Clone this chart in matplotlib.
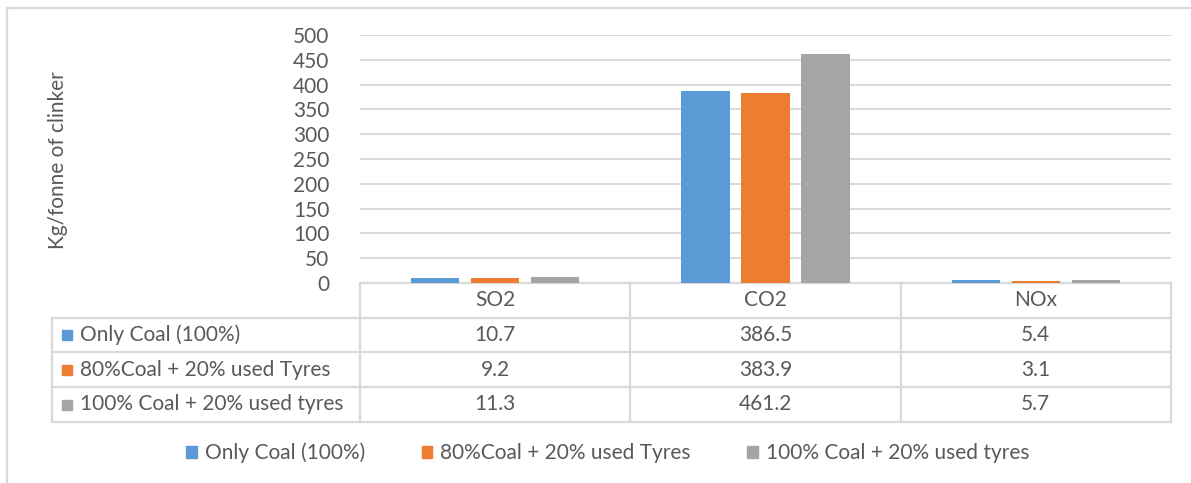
import numpy as np
import matplotlib.pyplot as plt
from matplotlib.patches import Patch, Rectangle

# emissions per tonne of clinker
pollutants = ['SO2', 'CO2', 'NOx']
fuel_mixes = ['Only Coal (100%)', '80%Coal + 20% used Tyres', '100% Coal + 20% used tyres']
only_coal = [10.7, 386.5, 5.4]
coal_80_tyres_20 = [9.2, 383.9, 3.1]
coal_100_tyres_20 = [11.3, 461.2, 5.7]
series = [only_coal, coal_80_tyres_20, coal_100_tyres_20]
colors = ['#5B9BD5', '#ED7D31', '#A5A5A5']
yticks = [0, 50, 100, 150, 200, 250, 300, 350, 400, 450, 500]

TEXT = '#595959'
LINE = '#D9D9D9'
FONT = 'Lato'
FS = 15

W, H = 1191, 483
plt.rcParams['font.family'] = FONT

fig = plt.figure(figsize=(W / 100, H / 100), dpi=100)

# pixel canvas for the table, frame and axis title
canvas = fig.add_axes([0, 0, 1, 1])
canvas.set_xlim(0, W)
canvas.set_ylim(H, 0)
canvas.axis('off')

# plot area
left, right, top, bottom = 360, 1171, 35, 283
ax = fig.add_axes([left / W, 1 - bottom / H, (right - left) / W, (bottom - top) / H])
x = np.arange(len(pollutants))
bw = 0.178
step = 0.222
for i, (vals, c) in enumerate(zip(series, colors)):
    ax.bar(x + (i - 1) * step, vals, bw, color=c, zorder=3)
ax.set_xlim(-0.5, len(pollutants) - 0.5)
ax.set_ylim(0, 500)
ax.set_yticks(yticks)
ax.set_xticks([])
ax.yaxis.grid(True, color=LINE, lw=1.4, zorder=0)
ax.tick_params(axis='y', length=0, pad=22, labelsize=FS, labelcolor=TEXT)
for s in ax.spines.values():
    s.set_visible(False)
ax.patch.set_alpha(0)

canvas.text(58, 160, 'Kg/fonne of clinker', rotation=90, ha='center', va='center',
            fontsize=FS, color=TEXT)

# data table under the bars
col_w = (right - left) / len(pollutants)
row_y = [283, 318, 352, 387, 422]
tab_left = 52
lw = 1.6
canvas.plot([left, right], [row_y[0]] * 2, color=LINE, lw=lw)
for yy in row_y[1:]:
    canvas.plot([tab_left, right], [yy, yy], color=LINE, lw=lw)
canvas.plot([tab_left, tab_left], [row_y[1], row_y[-1]], color=LINE, lw=lw)
for j in range(len(pollutants) + 1):
    xx = left + j * col_w
    canvas.plot([xx, xx], [row_y[0], row_y[-1]], color=LINE, lw=lw)

for j, p in enumerate(pollutants):
    canvas.text(left + (j + 0.5) * col_w, (row_y[0] + row_y[1]) / 2, p,
                ha='center', va='center', fontsize=FS, color=TEXT)
for i, (name, vals, c) in enumerate(zip(fuel_mixes, series, colors)):
    yc = (row_y[i + 1] + row_y[i + 2]) / 2
    canvas.add_patch(Rectangle((62, yc - 5), 10, 10, color=c))
    canvas.text(80, yc, name, ha='left', va='center', fontsize=FS, color=TEXT)
    for j, v in enumerate(vals):
        canvas.text(left + (j + 0.5) * col_w, yc, f'{v:.1f}',
                    ha='center', va='center', fontsize=FS, color=TEXT)

# chart frame
canvas.plot([7, W], [8, 8], color=LINE, lw=1.6)
canvas.plot([7, 7], [8, H], color=LINE, lw=1.6)

handles = [Patch(color=c, label=n) for n, c in zip(fuel_mixes, colors)]
leg = fig.legend(handles=handles, loc='center', ncol=3, frameon=False,
                 bbox_to_anchor=(608 / W, 1 - 453 / H), fontsize=FS,
                 handlelength=0.5, handleheight=0.5, handletextpad=0.4,
                 columnspacing=2.7)
for t in leg.get_texts():
    t.set_color(TEXT)

fig.savefig('out.png', dpi=100)
